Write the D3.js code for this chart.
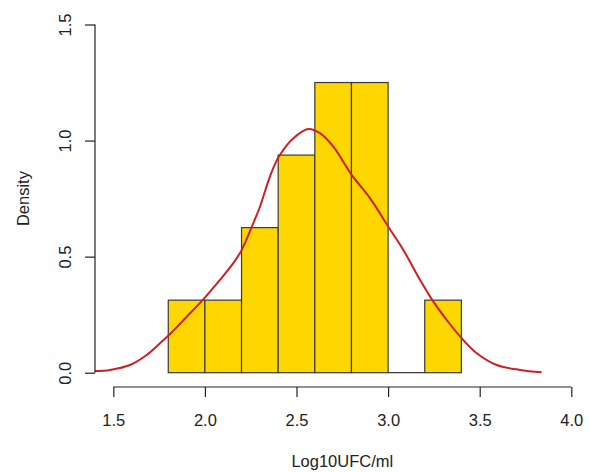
<!DOCTYPE html>
<html><head><meta charset="utf-8">
<script src="https://cdn.jsdelivr.net/npm/d3@7"></script>
<style>body{margin:0;background:#fff}svg{display:block}text{font-family:"Liberation Sans",Arial,sans-serif;fill:#222}</style>
</head><body>
<script>
const binEdges = [1.8, 2.0, 2.2, 2.4, 2.6, 2.8, 3.0, 3.2, 3.4];
const binDensity = [0.3125, 0.3125, 0.625, 0.9375, 1.25, 1.25, 0, 0.3125];
const densityX = [1.400,1.482,1.591,1.682,1.755,1.804,1.901,1.991,2.082,2.155,2.201,2.255,2.301,2.355,2.404,2.483,2.564,2.628,2.701,2.801,2.901,3.001,3.083,3.174,3.247,3.320,3.402,3.484,3.593,3.720,3.838];
const densityY = [0.007,0.012,0.033,0.076,0.127,0.162,0.241,0.316,0.400,0.472,0.529,0.627,0.716,0.845,0.931,1.010,1.050,1.032,0.974,0.852,0.752,0.629,0.529,0.400,0.306,0.227,0.148,0.084,0.033,0.012,0.002];
const xTicks = [1.5, 2.0, 2.5, 3.0, 3.5, 4.0];
const yTicks = [0.0, 0.5, 1.0, 1.5];
const xTitle = "Log10UFC/ml";
const yTitle = "Density";

const W = 589, H = 472;
const svg = d3.select("body").append("svg").attr("width", W).attr("height", H);
const x = d3.scaleLinear().domain([1.5, 4.0]).range([113.3, 571.3]);
const y = d3.scaleLinear().domain([0, 1.5]).range([372.7, 24.5]);
const fs = 16.5;

// bars
const bins = binDensity.map((d, i) => ({x0: binEdges[i], x1: binEdges[i + 1], d}));
svg.append("g").selectAll("rect").data(bins).join("rect")
  .attr("x", b => x(b.x0)).attr("width", b => x(b.x1) - x(b.x0))
  .attr("y", b => y(b.d)).attr("height", b => y(0) - y(b.d))
  .attr("fill", "#FFD700").attr("stroke", "#3a3a3a").attr("stroke-width", 1.2);
// zero-height bins as line
svg.append("g").selectAll("line").data(bins.filter(b => b.d === 0)).join("line")
  .attr("x1", b => x(b.x0)).attr("x2", b => x(b.x1))
  .attr("y1", y(0)).attr("y2", y(0)).attr("stroke", "#3a3a3a").attr("stroke-width", 1.2);

// density curve
const pts = densityX.map((v, i) => [v, densityY[i]]);
svg.append("path").datum(pts)
  .attr("d", d3.line().x(p => x(p[0])).y(p => y(p[1])).curve(d3.curveCatmullRom.alpha(0.5)))
  .attr("fill", "none").attr("stroke", "#cc2026").attr("stroke-width", 2);

// x axis
const xa = svg.append("g").attr("transform", `translate(0,387)`)
  .call(d3.axisBottom(x).tickValues(xTicks).tickFormat(d3.format(".1f")).tickSize(10).tickPadding(17));
xa.select(".domain").attr("d", `M${x(1.5)},0H${x(4.0)}`).attr("stroke", "#222").attr("stroke-width", 1.2);
xa.selectAll(".tick line").attr("stroke", "#222").attr("stroke-width", 1.2);
xa.selectAll("text").attr("font-size", fs).style("font-family", '"Liberation Sans",Arial,sans-serif').attr("fill", "#222");

// y axis
const ya = svg.append("g").attr("transform", `translate(95,0)`)
  .call(d3.axisLeft(y).tickValues(yTicks).tickFormat(d3.format(".1f")).tickSize(10));
ya.select(".domain").attr("d", `M0,${y(0)}V${y(1.5)}`).attr("stroke", "#222").attr("stroke-width", 1.2);
ya.selectAll(".tick line").attr("stroke", "#222").attr("stroke-width", 1.2);
ya.selectAll("text").attr("font-size", fs).style("font-family", '"Liberation Sans",Arial,sans-serif').attr("fill", "#222")
  .attr("x", 0).attr("dy", null).attr("text-anchor", "middle")
  .attr("transform", "translate(-30,0) rotate(-90)").attr("y", 0).attr("dominant-baseline", "central");

// titles
svg.append("text").attr("x", x(2.75)).attr("y", 467).attr("text-anchor", "middle").attr("font-size", fs).text(xTitle);
svg.append("text").attr("transform", `translate(29,${y(0.75)}) rotate(-90)`).attr("text-anchor", "middle").attr("font-size", fs).text(yTitle);
</script>
</body></html>
